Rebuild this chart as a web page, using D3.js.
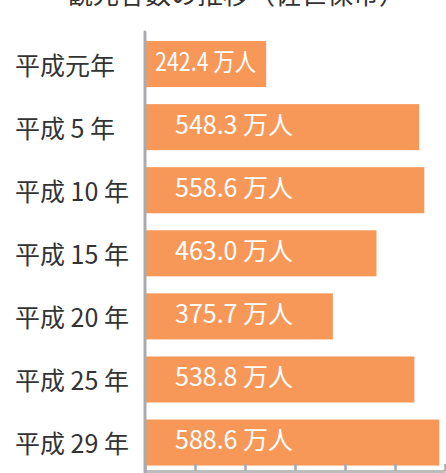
<!DOCTYPE html>
<html>
<head>
<meta charset="utf-8">
<script src="https://cdn.jsdelivr.net/npm/d3@7"></script>
<style>
  html, body { margin: 0; padding: 0; background: #fff; }
  svg { display: block; font-family: "Noto Sans CJK JP", "Noto Sans", sans-serif; }
</style>
</head>
<body>
<div id="chart"></div>
<script>
// data
var titleText = "観光客数の推移（佐世保市）";
var years = ["平成元年", "平成 5 年", "平成 10 年", "平成 15 年", "平成 20 年", "平成 25 年", "平成 29 年"];
var visitors = [242.4, 548.3, 558.6, 463.0, 375.7, 538.8, 588.6]; // 万人
var xTicks = [0, 100, 200, 300, 400, 500, 600];

function init() {
    var w = 446;
    var h = 473;
    var plotLeft = 145;
    var plotRight = 445;
    var labelPad = 30;

    var dataset = years.map(function(d, i) {
        return { year: d, value: visitors[i] };
    });

    var xScale = d3.scaleLinear()
        .domain([0, 600])
        .range([plotLeft, plotRight]);

    var yScale = d3.scaleBand()
        .domain(years)
        .range([32.5, 474.1])
        .paddingInner(0.27)
        .paddingOuter(0.135);

    var svg = d3.select("#chart")
        .append("svg")
        .attr("width", w)
        .attr("height", h);

    // title (cut off at the top in the original)
    svg.append("text")
        .attr("x", 236)
        .attr("y", 4)
        .attr("text-anchor", "middle")
        .attr("font-size", 26)
        .attr("fill", "#333")
        .text(titleText);

    // bars
    svg.selectAll("rect.bar")
        .data(dataset)
        .enter()
        .append("rect")
        .attr("class", "bar")
        .attr("x", xScale(0))
        .attr("y", function(d) { return yScale(d.year); })
        .attr("width", function(d) { return xScale(d.value) - xScale(0); })
        .attr("height", yScale.bandwidth())
        .attr("fill", "#f79858");

    // value labels inside bars
    var labels = svg.selectAll("text.value")
        .data(dataset)
        .enter()
        .append("text")
        .attr("class", "value")
        .attr("x", xScale(0) + labelPad)
        .attr("y", function(d) { return yScale(d.year) + yScale.bandwidth() / 2 + 6.5; })
        .attr("font-size", 25)
        .attr("fill", "#fff")
        .text(function(d) { return d.value.toFixed(1) + " 万人"; });

    // squeeze a label that does not fit its bar
    labels.each(function(d) {
        var barW = xScale(d.value) - xScale(0);
        var tw = this.getComputedTextLength();
        if (tw + labelPad * 2 > barW) {
            d3.select(this)
                .attr("x", xScale(0) + 10)
                .attr("textLength", barW - 20)
                .attr("lengthAdjust", "spacingAndGlyphs");
        }
    });

    // category labels
    svg.selectAll("text.year")
        .data(dataset)
        .enter()
        .append("text")
        .attr("class", "year")
        .attr("x", 15)
        .attr("y", function(d) { return yScale(d.year) + yScale.bandwidth() / 2 + 10.5; })
        .attr("font-size", 25)
        .attr("fill", "#333")
        .text(function(d) { return d.year; });

    // bottom axis, ticks pointing up, no labels
    var xAxis = d3.axisTop(xScale)
        .tickValues(xTicks)
        .tickSize(7)
        .tickSizeOuter(0)
        .tickFormat("");

    var gx = svg.append("g")
        .attr("transform", "translate(0,471)")
        .call(xAxis);
    gx.select(".domain")
        .attr("stroke", "#bdbdbd")
        .attr("stroke-width", 3);
    gx.selectAll(".tick line")
        .attr("stroke", "#aaaaaa")
        .attr("stroke-width", 2.5);

    // vertical axis line
    svg.append("line")
        .attr("x1", xScale(0))
        .attr("x2", xScale(0))
        .attr("y1", 32)
        .attr("y2", 472)
        .attr("stroke", "#a9a9ae")
        .attr("stroke-width", 3)
        .attr("stroke-linecap", "round");
}

window.onload = init;
</script>
</body>
</html>
